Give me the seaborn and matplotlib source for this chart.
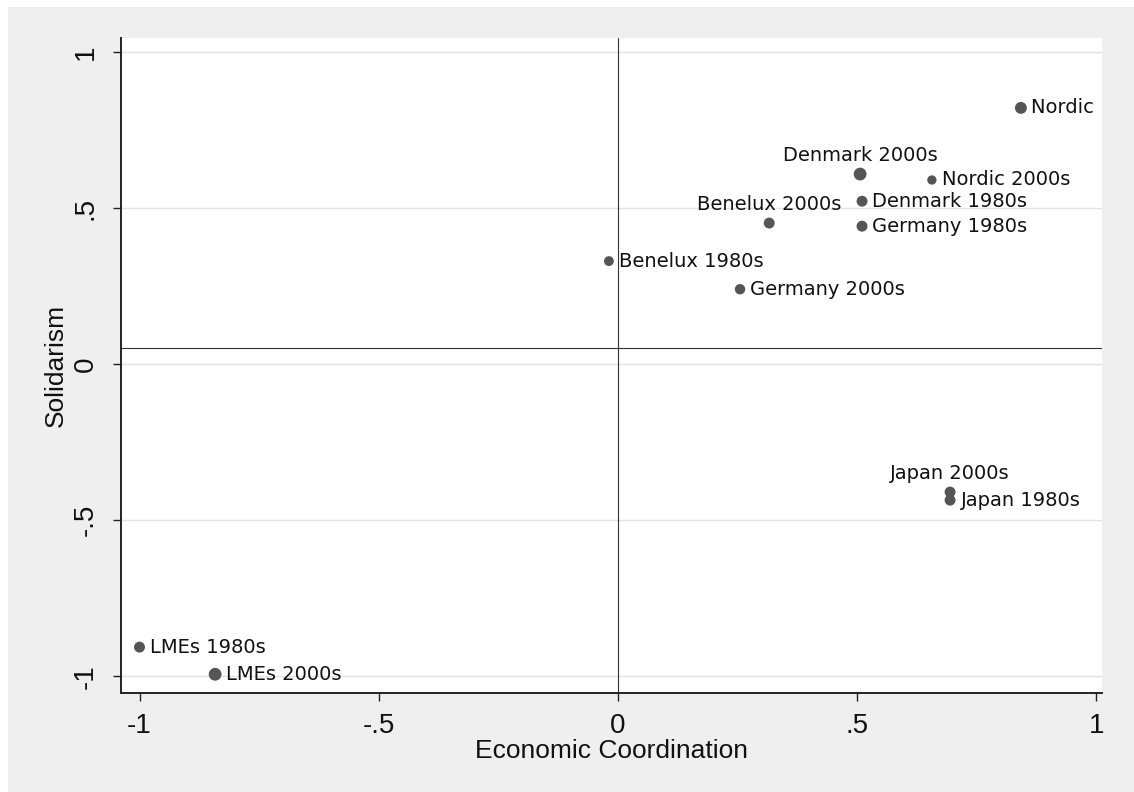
import matplotlib
matplotlib.use("Agg")
import matplotlib.pyplot as plt
from matplotlib.patches import Rectangle
import pandas as pd
import seaborn as sns

# Country-group positions on the two dimensions
labels = ["Nordic 1980s", "Denmark 2000s", "Nordic 2000s", "Denmark 1980s",
          "Germany 1980s", "Benelux 2000s", "Benelux 1980s", "Germany 2000s",
          "Japan 2000s", "Japan 1980s", "LMEs 1980s", "LMEs 2000s"]
coordination = [0.842, 0.506, 0.656, 0.510, 0.510, 0.316, -0.019, 0.255,
                0.694, 0.694, -1.000, -0.842]
solidarism = [0.821, 0.609, 0.590, 0.522, 0.442, 0.452, 0.330, 0.240,
              -0.410, -0.436, -0.907, -0.994]
weights = [11.0, 12.0, 8.5, 10.0, 10.0, 10.0, 9.0, 9.5, 10.0, 10.0, 10.0, 12.0]

# labels placed above their marker (clock position 12); the rest sit to the right
above = {"Denmark 2000s", "Benelux 2000s", "Japan 2000s"}

x_ticks = [-1, -0.5, 0, 0.5, 1]
x_ticklabels = ["-1", "-.5", "0", ".5", "1"]
y_ticks = [-1, -0.5, 0, 0.5, 1]
y_ticklabels = ["-1", "-.5", "0", ".5", "1"]
x_ref = 0.0
y_ref = 0.05

df = pd.DataFrame({"label": labels, "coordination": coordination,
                   "solidarism": solidarism, "weight": weights})

sns.set_theme(style="white")
plt.rcParams["font.family"] = ["Liberation Sans", "DejaVu Sans"]

W, H = 1134, 792
fig = plt.figure(figsize=(W / 100, H / 100), dpi=100, facecolor="white")
fig.add_artist(Rectangle((8 / W, 0), 1 - 8 / W, 1 - 7 / H, transform=fig.transFigure,
                         facecolor="#efefef", edgecolor="none", zorder=-10))

ax = fig.add_axes([121 / W, 1 - 693 / H, (1102 - 121) / W, (693 - 38) / H])
ax.set_facecolor("white")

def area(px):
    return (px * 0.72) ** 2

sns.scatterplot(data=df, x="coordination", y="solidarism", size="weight",
                sizes=(area(min(weights) + 0.8), area(max(weights) + 0.8)),
                size_norm=(min(weights), max(weights)),
                color="#555555", edgecolor="none", linewidth=0,
                legend=False, ax=ax, zorder=3)

for lab, xv, yv in zip(labels, coordination, solidarism):
    if lab in above:
        ax.annotate(lab, (xv, yv), xytext=(0, 13), textcoords="offset points",
                    ha="center", va="center", fontsize=14, color="#111111",
                    family="DejaVu Sans", clip_on=True, zorder=4)
    else:
        ax.annotate(lab, (xv, yv), xytext=(7.5, 0), textcoords="offset points",
                    ha="left", va="center", fontsize=14, color="#111111",
                    family="DejaVu Sans", clip_on=True, zorder=4)

ax.axvline(x_ref, color="#333333", lw=0.8, zorder=2)
ax.axhline(y_ref, color="#333333", lw=0.8, zorder=2)

ax.set_xlim(-1.0387, 1.0115)
ax.set_ylim(-1.054, 1.045)
ax.set_xticks(x_ticks)
ax.set_xticklabels(x_ticklabels)
ax.set_yticks(y_ticks)
ax.set_yticklabels(y_ticklabels, rotation=90, va="center")

ax.yaxis.grid(True, color="#e3e3e3", lw=1.0, zorder=0)
ax.xaxis.grid(False)
ax.set_axisbelow(True)

for side in ("top", "right"):
    ax.spines[side].set_visible(False)
for side in ("left", "bottom"):
    ax.spines[side].set_color("#222222")
    ax.spines[side].set_linewidth(1.4)

ax.tick_params(axis="both", which="major", direction="out", length=5.5, width=1.0,
               color="#222222", labelsize=20, labelcolor="#111111",
               left=True, bottom=True)
ax.tick_params(axis="x", pad=9)
ax.tick_params(axis="y", pad=10.5)

ax.set_xlabel("Economic Coordination", fontsize=19, color="#111111", labelpad=0)
ax.set_ylabel("Solidarism", fontsize=19, color="#111111", labelpad=3.5)

fig.savefig("out.png", dpi=100, facecolor=fig.get_facecolor())
